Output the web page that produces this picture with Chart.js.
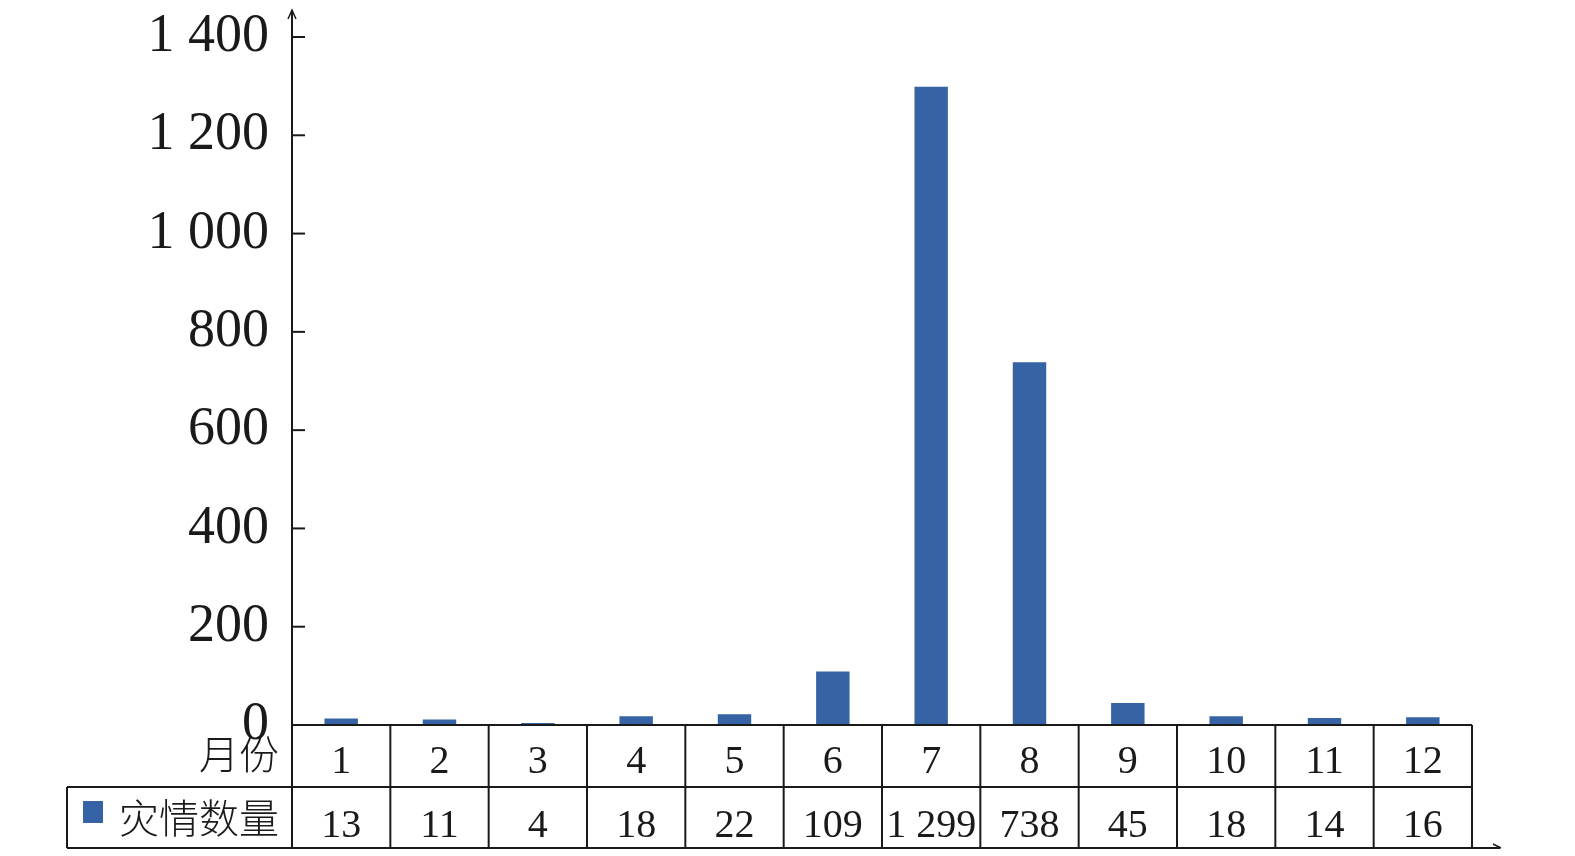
<!DOCTYPE html>
<html>
<head>
<meta charset="utf-8">
<script src="https://cdn.jsdelivr.net/npm/chart.js@4.4.1/dist/chart.umd.min.js"></script>
<style>
  html, body { margin: 0; padding: 0; background: #fff; }
  #wrap { width: 1575px; height: 856px; }
</style>
</head>
<body>
<div id="wrap"><canvas id="chart"></canvas></div>
<script>
// ── Data ──────────────────────────────────────────
const months = ['1', '2', '3', '4', '5', '6', '7', '8', '9', '10', '11', '12'];
const counts = [13, 11, 4, 18, 22, 109, 1299, 738, 45, 18, 14, 16];
const yMin = 0, yMax = 1400, yStep = 200;
const rowLabel = '月份';
const seriesLabel = '灾情数量';

const barColor = '#3563a4';
const ink = '#1a1a1a';
const serif = '"Liberation Serif", "Noto Sans CJK SC", serif';

function fmt(v) {
  return String(v).replace(/\B(?=(\d{3})+(?!\d))/g, ' ');
}

// ── Axes, ticks and data table ────────────────────
const tablePlugin = {
  id: 'table',
  afterDraw(chart) {
    const ctx = chart.ctx;
    const xs = chart.scales.x;
    const ys = chart.scales.y;
    const area = chart.chartArea;
    const ax = area.left;
    const row1 = area.bottom;
    const row2 = row1 + 62;
    const row3 = row2 + 61;
    const tableLeft = 67;
    const half = (xs.getPixelForValue(1) - xs.getPixelForValue(0)) / 2;
    const right = xs.getPixelForValue(months.length - 1) + half;

    ctx.save();
    ctx.strokeStyle = ink;
    ctx.lineWidth = 2;

    // y axis with arrow
    ctx.beginPath();
    ctx.moveTo(ax, row3);
    ctx.lineTo(ax, 11);
    ctx.stroke();
    ctx.lineWidth = 1.5;
    ctx.beginPath();
    ctx.moveTo(ax - 4, 19);
    ctx.lineTo(ax, 10);
    ctx.lineTo(ax + 4, 19);
    ctx.stroke();

    // tick marks inside the axis
    ctx.lineWidth = 2;
    for (let v = yMin; v <= yMax; v += yStep) {
      const y = ys.getPixelForValue(v);
      ctx.beginPath();
      ctx.moveTo(ax, y);
      ctx.lineTo(ax + 13, y);
      ctx.stroke();
    }

    // horizontal rules
    ctx.beginPath();
    ctx.moveTo(ax, row1); ctx.lineTo(right, row1);
    ctx.moveTo(tableLeft, row2); ctx.lineTo(right, row2);
    ctx.moveTo(tableLeft, row3); ctx.lineTo(right + 28, row3);
    ctx.moveTo(tableLeft, row2); ctx.lineTo(tableLeft, row3);
    ctx.stroke();
    // x arrow at the end of the bottom rule
    ctx.lineWidth = 1.5;
    ctx.beginPath();
    ctx.moveTo(right + 21, row3 - 4);
    ctx.lineTo(right + 29, row3);
    ctx.stroke();

    // column separators
    ctx.lineWidth = 2;
    months.forEach((m, i) => {
      const x = xs.getPixelForValue(i) + half;
      ctx.beginPath();
      ctx.moveTo(x, row1);
      ctx.lineTo(x, row3);
      ctx.stroke();
    });

    // cell text
    ctx.fillStyle = ink;
    ctx.font = '40px ' + serif;
    ctx.textAlign = 'center';
    ctx.textBaseline = 'alphabetic';
    months.forEach((m, i) => {
      const x = xs.getPixelForValue(i);
      ctx.fillText(m, x, row1 + 48);
      ctx.fillText(fmt(counts[i]), x, row2 + 50);
    });

    // row headers
    ctx.textAlign = 'right';
    ctx.font = '300 40px "Noto Sans CJK SC", serif';
    ctx.fillText(rowLabel, ax - 13, row1 + 44);
    ctx.fillText(seriesLabel, ax - 13, row2 + 46);
    ctx.fillStyle = barColor;
    ctx.fillRect(83, row2 + 14, 20, 22);

    ctx.restore();
  }
};

// ── Chart ─────────────────────────────────────────
new Chart(document.getElementById('chart'), {
  type: 'bar',
  data: {
    labels: months,
    datasets: [{
      label: seriesLabel,
      data: counts,
      backgroundColor: barColor,
      borderWidth: 0,
      categoryPercentage: 1,
      barPercentage: 0.34
    }]
  },
  options: {
    responsive: true,
    maintainAspectRatio: false,
    animation: false,
    layout: { padding: { left: 0, top: 37, right: 103, bottom: 131 } },
    plugins: { legend: { display: false }, tooltip: { enabled: false } },
    scales: {
      x: { display: false, offset: true },
      y: {
        min: yMin,
        max: yMax,
        afterFit(scale) {
          scale.width = 292;
          scale.paddingTop = 0;
          scale.paddingBottom = 0;
        },
        border: { display: false },
        grid: { display: false, drawTicks: false },
        ticks: {
          stepSize: yStep,
          padding: 23,
          color: ink,
          font: { family: serif, size: 54 },
          callback: v => fmt(v)
        }
      }
    }
  },
  plugins: [tablePlugin]
});
</script>
</body>
</html>
